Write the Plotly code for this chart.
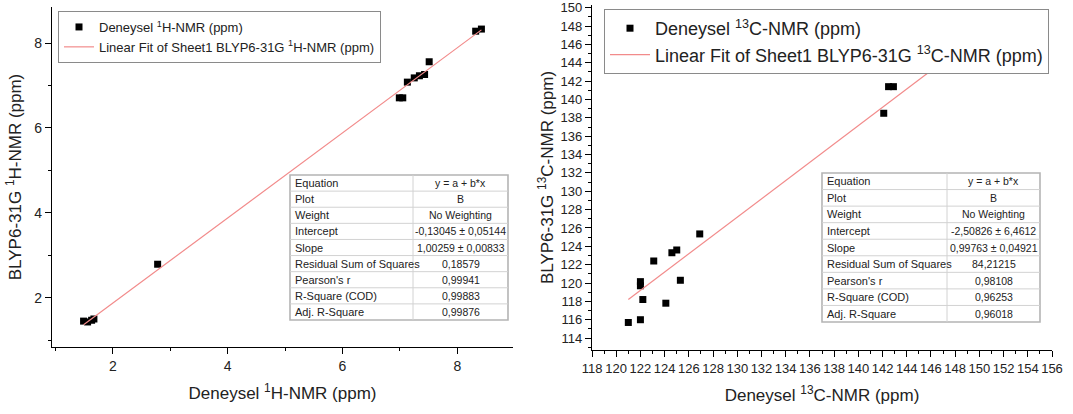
import plotly.graph_objects as go

# ---------------- data ----------------
h_exp = [1.49, 1.56, 1.63, 1.67, 2.78, 6.99, 7.05, 7.13, 7.25, 7.34, 7.43, 7.51, 8.32, 8.42]
h_calc = [1.45, 1.43, 1.47, 1.50, 2.79, 6.71, 6.71, 7.08, 7.18, 7.23, 7.26, 7.56, 8.28, 8.33]
h_intercept = -0.13045
h_slope = 1.00259

c_exp = [121.0, 122.0, 122.0, 122.0, 122.2, 123.1, 124.1, 124.6, 125.0, 125.3, 126.9, 142.1, 142.5, 142.9]
c_calc = [115.7, 116.0, 119.7, 120.15, 118.2, 122.4, 117.8, 123.3, 123.6, 120.3, 125.35, 138.5, 141.4, 141.4]
c_intercept = -2.50826
c_slope = 0.99763
c_fit_end = 147.0

table_labels = ["Equation", "Plot", "Weight", "Intercept", "Slope",
                "Residual Sum of Squares", "Pearson's r", "R-Square (COD)", "Adj. R-Square"]
h_table_vals = ["y = a + b*x", "B", "No Weighting", "-0,13045 ± 0,05144", "1,00259 ± 0,00833",
                "0,18579", "0,99941", "0,99883", "0,99876"]
c_table_vals = ["y = a + b*x", "B", "No Weighting", "-2,50826 ± 6,4612", "0,99763 ± 0,04921",
                "84,21215", "0,98108", "0,96253", "0,96018"]

W, H = 1073, 414
FONT = "Liberation Sans, Arial, sans-serif"
FIT_COLOR = "#f28b8b"


def px_x(p):
    return p / W


def px_y(p):
    return 1 - p / H


fig = go.Figure()

# ---------------- left panel ----------------
h_fx = [min(h_exp), max(h_exp)]
fig.add_trace(go.Scatter(x=h_exp, y=h_calc, mode="markers",
                         marker=dict(symbol="square", size=7, color="black"),
                         name="Deneysel <sup>1</sup>H-NMR (ppm)",
                         xaxis="x", yaxis="y", legend="legend"))
fig.add_trace(go.Scatter(x=h_fx, y=[h_intercept + h_slope * v for v in h_fx], mode="lines",
                         line=dict(color=FIT_COLOR, width=1.2),
                         name="Linear Fit of Sheet1 BLYP6-31G <sup>1</sup>H-NMR (ppm)",
                         xaxis="x", yaxis="y", legend="legend"))

# ---------------- right panel ----------------
c_fx = [min(c_exp), c_fit_end]
fig.add_trace(go.Scatter(x=c_exp, y=c_calc, mode="markers",
                         marker=dict(symbol="square", size=7, color="black"),
                         name="Deneysel <sup>13</sup>C-NMR (ppm)",
                         xaxis="x2", yaxis="y2", legend="legend2"))
fig.add_trace(go.Scatter(x=c_fx, y=[c_intercept + c_slope * v for v in c_fx], mode="lines",
                         line=dict(color=FIT_COLOR, width=1.2),
                         name="Linear Fit of Sheet1 BLYP6-31G <sup>13</sup>C-NMR (ppm)",
                         xaxis="x2", yaxis="y2", legend="legend2"))


# ---------------- tables (drawn as shapes + text) ----------------
def add_table(vals, x0, xd, x1, y0, y1):
    rows = len(table_labels)
    rh = (y1 - y0) / rows
    fig.add_shape(type="rect", xref="paper", yref="paper",
                  x0=px_x(x0), x1=px_x(x1), y0=px_y(y1), y1=px_y(y0),
                  fillcolor="white", line=dict(color="#b4b4b4", width=1.6), layer="above")
    for i in range(1, rows):
        yy = px_y(y0 + i * rh)
        fig.add_shape(type="line", xref="paper", yref="paper",
                      x0=px_x(x0), x1=px_x(x1), y0=yy, y1=yy,
                      line=dict(color="#d2d2d2", width=1), layer="above")
    fig.add_shape(type="line", xref="paper", yref="paper",
                  x0=px_x(xd), x1=px_x(xd), y0=px_y(y1), y1=px_y(y0),
                  line=dict(color="#d2d2d2", width=1), layer="above")
    for i, (lab, val) in enumerate(zip(table_labels, vals)):
        yc = px_y(y0 + (i + 0.5) * rh)
        fig.add_annotation(x=px_x(x0 + 3), y=yc, xref="paper", yref="paper",
                           text=lab, showarrow=False, xanchor="left", yanchor="middle",
                           font=dict(family=FONT, size=11, color="#222"))
        fig.add_annotation(x=px_x((xd + x1) / 2), y=yc, xref="paper", yref="paper",
                           text=val, showarrow=False, xanchor="center", yanchor="middle",
                           font=dict(family=FONT, size=10.5, color="#222"))


add_table(h_table_vals, 290, 413, 508, 175, 320)
add_table(c_table_vals, 822, 947, 1040, 173, 322)

axis_common = dict(showline=True, linecolor="black", linewidth=1.3, ticks="outside",
                   ticklen=6, tickwidth=1.2, tickcolor="black", showgrid=False,
                   zeroline=False, mirror=False, automargin=False,
                   tickfont=dict(family=FONT, size=14, color="#222"))
minor = dict(dtick=1, ticks="outside", ticklen=3, tickwidth=1, tickcolor="black", showgrid=False)

fig.update_layout(
    width=W, height=H,
    margin=dict(l=0, r=0, t=0, b=0),
    template="none",
    plot_bgcolor="white", paper_bgcolor="white",
    font=dict(family=FONT, color="#222"),
    xaxis=dict(domain=[px_x(52), px_x(513)], range=[0.94, 8.97], tick0=0, dtick=2,
               minor=dict(minor, tick0=0), anchor="y",
               title=dict(text="Deneysel <sup>1</sup>H-NMR (ppm)", standoff=14,
                          font=dict(family=FONT, size=17, color="#222")),
               **axis_common),
    yaxis=dict(domain=[px_y(347), px_y(7)], range=[0.84, 8.85], tick0=0, dtick=2,
               minor=dict(minor, tick0=0), anchor="x",
               title=dict(text="BLYP6-31G <sup>1</sup>H-NMR (ppm)", standoff=8,
                          font=dict(family=FONT, size=17, color="#222")),
               **axis_common),
    xaxis2=dict(domain=[px_x(592), px_x(1052)], range=[118, 156], tick0=0, dtick=2,
                minor=dict(minor, tick0=0), anchor="y2",
                title=dict(text="Deneysel <sup>13</sup>C-NMR (ppm)", standoff=14,
                           font=dict(family=FONT, size=17, color="#222")),
                **{**axis_common, "tickfont": dict(family=FONT, size=13, color="#222")}),
    yaxis2=dict(domain=[px_y(350), px_y(5)], range=[112.7, 150.3], tick0=0, dtick=2,
                minor=dict(minor, tick0=0), anchor="x2",
                title=dict(text="BLYP6-31G <sup>13</sup>C-NMR (ppm)", standoff=2,
                           font=dict(family=FONT, size=17, color="#222")),
                **{**axis_common, "tickfont": dict(family=FONT, size=13, color="#222")}),
    legend=dict(x=px_x(58), y=px_y(11), xanchor="left", yanchor="top",
                bgcolor="white", bordercolor="#8a8a8a", borderwidth=1,
                font=dict(family=FONT, size=13, color="#222"),
                tracegroupgap=0, itemwidth=30),
    legend2=dict(x=px_x(604), y=px_y(9), xanchor="left", yanchor="top",
                 bgcolor="white", bordercolor="#8a8a8a", borderwidth=1,
                 font=dict(family=FONT, size=18, color="#222"),
                 tracegroupgap=0, itemwidth=40),
    showlegend=True,
)

fig.write_html("out.html")
